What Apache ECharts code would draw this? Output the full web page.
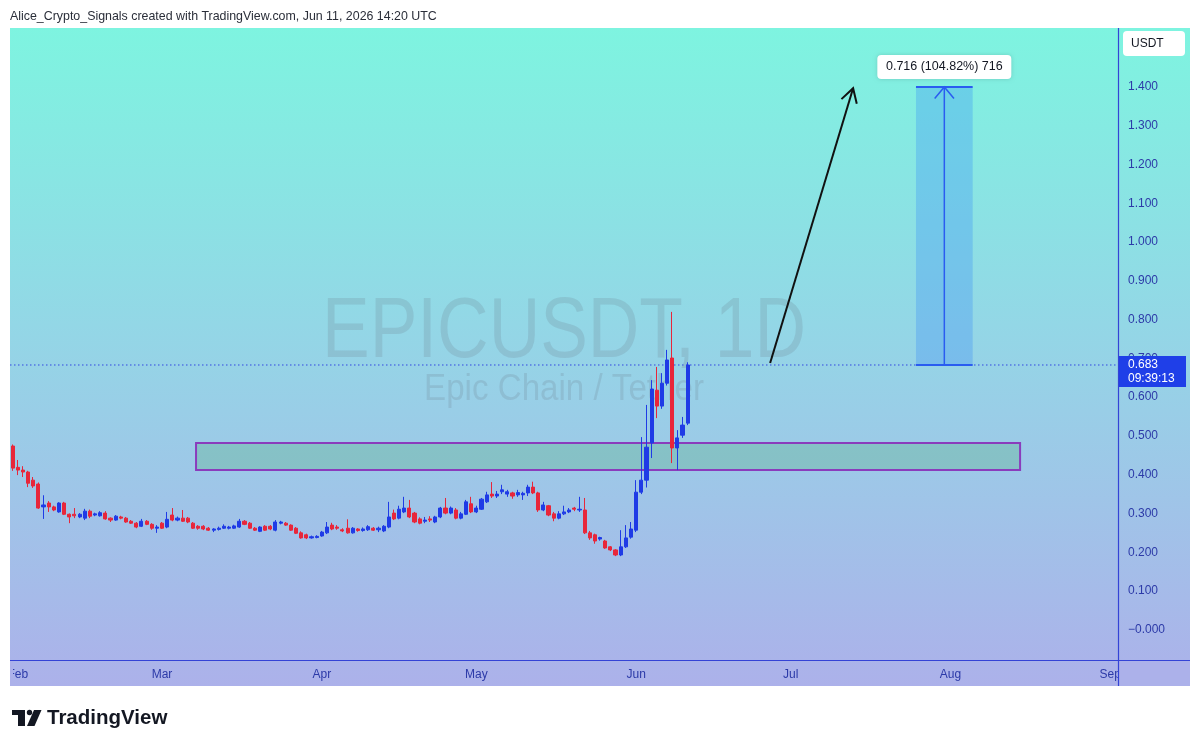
<!DOCTYPE html>
<html>
<head>
<meta charset="utf-8">
<script src="https://cdn.jsdelivr.net/npm/echarts@6.0.0/dist/echarts.min.js"></script>
<style>
html,body{margin:0;padding:0;background:#ffffff;}
#chart{width:1200px;height:747px;}
</style>
</head>
<body>
<div id="chart"></div>
<script>
// ---------------- data ----------------
const startDate = '2026-01-31';
const dayCount = 215;
const monthNames = ['Jan','Feb','Mar','Apr','May','Jun','Jul','Aug','Sep','Oct','Nov','Dec'];

const opens = [
.474,.419,.412,.407,.386,.376,.317,.327,.317,.304,.327,.298,.298,.291,.288,.306,.296,.294,.301,.288,
.283,.291,.288,.280,.275,.267,.280,.272,.262,.275,.265,.296,.283,.288,.288,.275,.267,.267,.262,.257,
.259,.262,.262,.262,.265,.280,.275,.262,.254,.267,.267,.257,.275,.275,.270,.262,.250,.245,.237,.238,
.242,.250,.270,.265,.258,.262,.250,.260,.256,.258,.262,.258,.255,.265,.301,.288,.304,.314,.301,.286,
.280,.286,.278,.291,.314,.301,.309,.288,.298,.325,.304,.311,.330,.350,.345,.356,.350,.353,.348,.348,
.353,.368,.353,.309,.320,.299,.288,.299,.304,.314,.309,.309,.250,.245,.234,.229,.214,.206,.193,.214,
.239,.257,.355,.386,.482,.618,.577,.636,.701,.469,.502,.533];
const closes = [
.417,.412,.407,.378,.371,.314,.322,.317,.309,.327,.298,.291,.294,.298,.306,.293,.299,.302,.286,.283,
.293,.288,.278,.275,.265,.280,.272,.262,.265,.262,.285,.283,.288,.280,.278,.262,.262,.260,.257,.260,
.262,.267,.265,.268,.280,.272,.262,.257,.265,.257,.260,.278,.278,.270,.257,.249,.237,.237,.240,.241,
.252,.265,.260,.262,.255,.250,.262,.256,.260,.266,.257,.262,.267,.291,.286,.311,.314,.291,.278,.275,
.283,.283,.291,.314,.301,.314,.288,.299,.330,.304,.314,.337,.348,.345,.350,.361,.356,.345,.354,.352,
.368,.353,.309,.322,.296,.288,.299,.304,.309,.311,.311,.250,.237,.229,.238,.211,.206,.193,.214,.237,
.260,.355,.386,.471,.621,.577,.636,.696,.469,.495,.528,.683];
const lows = [
.410,.399,.394,.368,.366,.312,.286,.304,.306,.302,.296,.275,.288,.288,.283,.288,.293,.292,.284,.278,
.281,.285,.276,.273,.262,.265,.270,.258,.250,.260,.262,.280,.280,.278,.275,.260,.258,.257,.255,.252,
.256,.260,.259,.260,.263,.270,.260,.255,.252,.255,.257,.254,.272,.268,.255,.247,.235,.234,.235,.236,
.240,.247,.257,.258,.252,.248,.248,.253,.253,.255,.255,.252,.252,.262,.283,.285,.301,.288,.275,.272,
.275,.278,.275,.288,.298,.298,.285,.285,.296,.301,.301,.309,.327,.340,.340,.350,.343,.338,.343,.335,
.345,.350,.304,.306,.293,.280,.285,.296,.301,.306,.304,.247,.232,.222,.230,.209,.203,.190,.190,.211,
.235,.252,.350,.367,.443,.546,.570,.630,.430,.412,.495,.528];
const highs = [
.478,.438,.422,.410,.394,.380,.347,.332,.320,.329,.330,.300,.314,.301,.312,.310,.302,.306,.306,.290,
.296,.294,.291,.283,.278,.286,.283,.275,.270,.278,.304,.314,.292,.309,.291,.278,.270,.270,.265,.262,
.266,.272,.268,.271,.286,.283,.278,.265,.267,.270,.270,.283,.281,.278,.272,.265,.254,.248,.243,.244,
.255,.278,.276,.270,.262,.285,.265,.262,.264,.270,.265,.266,.270,.330,.310,.320,.343,.335,.304,.290,
.291,.293,.294,.317,.340,.318,.314,.304,.335,.343,.320,.340,.356,.381,.358,.374,.361,.356,.361,.356,
.374,.382,.356,.330,.322,.304,.306,.320,.314,.317,.343,.340,.255,.248,.240,.232,.216,.208,.257,.270,
.278,.386,.497,.580,.644,.678,.662,.722,.820,.515,.549,.690];

// annotations, in data units (day index from startDate, price)
const zoneDays = [35.6, 195.5];
const zonePrices = [0.412, 0.482];
const targetDays = [175.3, 186.3];
const targetPrices = [0.683, 1.400];
const trendStart = [147.0, 0.688];
const trendEnd = [163.1, 1.397];
const lastPrice = 0.683;
const targetLabel = '0.716 (104.82%) 716';
const countdown = '09:39:13';
const symbolTitle = 'EPICUSDT, 1D';
const symbolDesc = 'Epic Chain / Tether';
const headerText = 'Alice_Crypto_Signals created with TradingView.com, Jun 11, 2026 14:20 UTC';
const currency = 'USDT';
const brand = 'TradingView';

// ---------------- build ----------------
const dates = [];
const d0 = new Date(startDate + 'T00:00:00Z');
for (let i = 0; i < dayCount; i++) {
  dates.push(new Date(d0.getTime() + i * 86400000).toISOString().slice(0, 10));
}
const candles = opens.map((o, i) => [o, closes[i], lows[i], highs[i]]);

const BLUE = '#1f3be6';
const RED = '#e8263a';
const AXIS = '#3443d6';
const LABEL = '#2c3aa8';
const FONT = '"Liberation Sans", Arial, sans-serif';

function chevron(tip, from, len, ang, style) {
  const dx = from[0] - tip[0], dy = from[1] - tip[1];
  const L = Math.hypot(dx, dy), ux = dx / L, uy = dy / L;
  const rot = a => [tip[0] + len * (ux * Math.cos(a) - uy * Math.sin(a)),
                    tip[1] + len * (ux * Math.sin(a) + uy * Math.cos(a))];
  return { type: 'polyline', shape: { points: [rot(ang), tip, rot(-ang)] }, style: style };
}

const chart = echarts.init(document.getElementById('chart'), null, { renderer: 'canvas' });

const option = {
  animation: false,
  backgroundColor: '#ffffff',
  grid: { left: 10, right: 82, top: 28, bottom: 87, containLabel: false, outerBoundsMode: 'none' },
  xAxis: [{
    type: 'category',
    data: dates,
    boundaryGap: true,
    axisLine: { show: false },
    axisTick: { show: false },
    splitLine: { show: false },
    axisLabel: {
      interval: (idx, val) => val.slice(8, 10) === '01',
      formatter: val => monthNames[parseInt(val.slice(5, 7), 10) - 1],
      color: LABEL, fontSize: 12, fontFamily: FONT, margin: 9
    }
  }, {
    type: 'value', min: -0.5, max: dayCount - 0.5, show: false
  }],
  yAxis: [{
    type: 'value',
    position: 'right',
    min: -0.0779,
    max: 1.5522,
    splitNumber: 16,
    scale: true,
    axisLine: { show: false },
    axisTick: { show: false },
    splitLine: { show: false },
    axisLabel: {
      color: LABEL, fontSize: 12, fontFamily: FONT, margin: 10,
      showMinLabel: false, showMaxLabel: false,
      formatter: v => {
        if (v < -0.05 || v > 1.45) return '';
        if (Math.abs(v) < 1e-6) return '\u22120.000';
        return v.toFixed(3);
      }
    }
  }],
  series: [
    {
      type: 'custom',
      xAxisIndex: 1, yAxisIndex: 0,
      z: 1, clip: false, silent: true,
      data: [[0, 0]],
      renderItem: (params, api) => {
        const cs = params.coordSys;
        const a = api.coord([zoneDays[0], zonePrices[1]]);
        const b = api.coord([zoneDays[1], zonePrices[0]]);
        const py = api.coord([0, lastPrice])[1];
        return { type: 'group', children: [
          { type: 'rect', shape: { x: a[0], y: a[1], width: b[0] - a[0], height: b[1] - a[1] },
            style: { fill: 'rgba(76,175,110,0.27)', stroke: '#8a3cbc', lineWidth: 2 } },
          { type: 'line', shape: { x1: cs.x, y1: py, x2: cs.x + cs.width, y2: py },
            style: { stroke: '#3147e0', lineWidth: 1, lineDash: [1.5, 2.5] } }
        ]};
      }
    },
    {
      type: 'candlestick',
      xAxisIndex: 0, yAxisIndex: 0,
      z: 3,
      barWidth: 3.6,
      data: candles,
      itemStyle: { color: BLUE, color0: RED, borderColor: BLUE, borderColor0: RED, borderWidth: 1 }
    },
    {
      type: 'custom',
      xAxisIndex: 1, yAxisIndex: 0,
      z: 6, clip: false, silent: true,
      data: [[0, 0]],
      renderItem: (params, api) => {
        const cs = params.coordSys;
        const t0 = api.coord([targetDays[0], targetPrices[1]]);
        const t1 = api.coord([targetDays[1], targetPrices[0]]);
        const mx = (t0[0] + t1[0]) / 2;
        const s = api.coord(trendStart), e = api.coord(trendEnd);
        const py = api.coord([0, lastPrice])[1];
        const rightX = cs.x + cs.width;
        const blueLine = { stroke: '#2a5cf0', lineWidth: 2 };
        return { type: 'group', children: [
          { type: 'rect', shape: { x: t0[0], y: t0[1], width: t1[0] - t0[0], height: t1[1] - t0[1] },
            style: { fill: 'rgba(40,125,250,0.26)' } },
          { type: 'line', shape: { x1: t0[0], y1: t0[1], x2: t1[0], y2: t0[1] }, style: blueLine },
          { type: 'line', shape: { x1: t0[0], y1: t1[1], x2: t1[0], y2: t1[1] }, style: blueLine },
          { type: 'line', shape: { x1: mx, y1: t1[1], x2: mx, y2: t0[1] }, style: { stroke: '#2a5cf0', lineWidth: 1.5 } },
          chevron([mx, t0[1]], [mx, t1[1]], 15, Math.PI / 4.5, { stroke: '#2a5cf0', lineWidth: 1.5, fill: null }),
          { type: 'rect', shape: { x: mx - 67, y: t0[1] - 32, width: 134, height: 24, r: 4 },
            style: { fill: '#ffffff', shadowBlur: 4, shadowColor: 'rgba(0,0,0,0.15)' } },
          { type: 'text', x: mx, y: t0[1] - 20,
            style: { text: targetLabel, fill: '#131722', font: '12.5px ' + FONT, textAlign: 'center', textVerticalAlign: 'middle' } },
          { type: 'line', shape: { x1: s[0], y1: s[1], x2: e[0], y2: e[1] }, style: { stroke: '#111111', lineWidth: 2 } },
          chevron(e, s, 16, Math.PI / 6, { stroke: '#111111', lineWidth: 2, fill: null }),
          { type: 'rect', shape: { x: rightX, y: py - 9, width: 68, height: 31 }, style: { fill: '#1f3fe8' } },
          { type: 'text', x: rightX + 10, y: py,
            style: { text: String(lastPrice.toFixed(3)), fill: '#ffffff', font: '12px ' + FONT, textVerticalAlign: 'middle' } },
          { type: 'text', x: rightX + 10, y: py + 14,
            style: { text: countdown, fill: '#ffffff', font: '12px ' + FONT, textVerticalAlign: 'middle' } }
        ]};
      }
    }
  ],
  graphic: { elements: [
    { type: 'rect', z: -10, silent: true, shape: { x: 10, y: 28, width: 1180, height: 658 },
      style: { fill: { type: 'linear', x: 0, y: 0, x2: 0, y2: 1, colorStops: [
        { offset: 0, color: '#7ef4e0' }, { offset: 0.45, color: '#93d7e6' }, { offset: 1, color: '#acb1ea' } ] } } },
    { type: 'text', z: -5, silent: true, x: 564, y: 333, scaleX: 0.83,
      style: { text: symbolTitle, fill: 'rgba(100,112,125,0.19)', font: '86px ' + FONT, textAlign: 'center', textVerticalAlign: 'middle' } },
    { type: 'text', z: -5, silent: true, x: 564, y: 390, scaleX: 0.92,
      style: { text: symbolDesc, fill: 'rgba(100,112,125,0.19)', font: '36px ' + FONT, textAlign: 'center', textVerticalAlign: 'middle' } },
    // covers for clipped axis labels
    { type: 'rect', z: 100, silent: true, shape: { x: 0, y: 661, width: 13, height: 26 }, style: { fill: '#ffffff' } },
    { type: 'rect', z: 100, silent: true, shape: { x: 10, y: 661, width: 3, height: 25 }, style: { fill: '#acb1ea' } },
    { type: 'rect', z: 100, silent: true, shape: { x: 1119, y: 661, width: 71, height: 25 }, style: { fill: '#acb1ea' } },
    // axis lines
    { type: 'line', z: 101, silent: true, shape: { x1: 1118.5, y1: 28, x2: 1118.5, y2: 686 }, style: { stroke: AXIS, lineWidth: 1.2 } },
    { type: 'line', z: 101, silent: true, shape: { x1: 10, y1: 660.5, x2: 1190, y2: 660.5 }, style: { stroke: AXIS, lineWidth: 1.2 } },
    // currency box
    { type: 'rect', z: 101, silent: true, shape: { x: 1123, y: 31, width: 62, height: 25, r: 4 }, style: { fill: '#ffffff' } },
    { type: 'text', z: 102, silent: true, x: 1131, y: 43.5,
      style: { text: currency, fill: '#131722', font: '12px ' + FONT, textVerticalAlign: 'middle' } },
    // header
    { type: 'text', z: 101, silent: true, x: 10, y: 17,
      style: { text: headerText, fill: '#2a2e39', font: '12.4px ' + FONT, textVerticalAlign: 'middle' } },
    // footer logo
    { type: 'rect', z: 101, silent: true, shape: { x: 12, y: 710, width: 13, height: 5 }, style: { fill: '#131722' } },
    { type: 'rect', z: 101, silent: true, shape: { x: 18, y: 710, width: 7, height: 16 }, style: { fill: '#131722' } },
    { type: 'circle', z: 101, silent: true, shape: { cx: 29.5, cy: 712.5, r: 2.7 }, style: { fill: '#131722' } },
    { type: 'polygon', z: 101, silent: true, shape: { points: [[34, 710], [41.5, 710], [34.5, 726], [27, 726]] }, style: { fill: '#131722' } },
    { type: 'text', z: 101, silent: true, x: 47, y: 718,
      style: { text: brand, fill: '#131722', font: 'bold 20.5px ' + FONT, textVerticalAlign: 'middle' } }
  ]}
};

chart.setOption(option);
</script>
</body>
</html>
